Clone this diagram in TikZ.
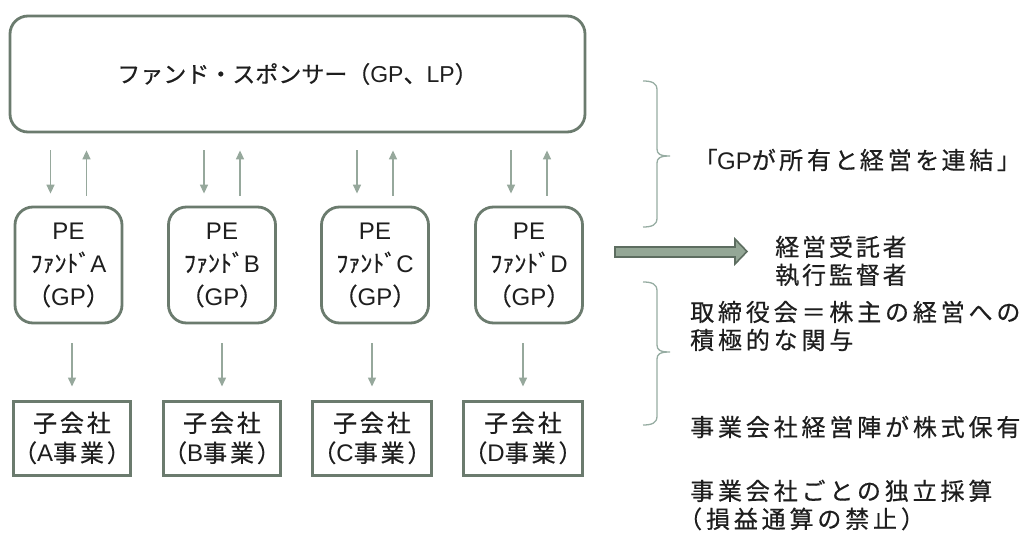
\documentclass[tikz,border=0pt]{standalone}
\usepackage{fontspec}
\setmainfont{Noto Sans CJK JP}
\newfontfamily\jpwide[LetterSpace=12, FakeBold=0.5]{Noto Sans CJK JP}
\newfontfamily\jpwider[LetterSpace=16, FakeBold=0.5]{Noto Sans CJK JP}
\newfontfamily\jpnarrow[FakeBold=0.5]{Noto Sans CJK JP}
\newfontfamily\jpprop[RawFeature=+palt, LetterSpace=16, FakeBold=0.5]{Noto Sans CJK JP}
\newfontfamily\latf{Liberation Sans}
\newcommand\lt[1]{{\latf #1}}
\usetikzlibrary{arrows.meta}
\definecolor{boxc}{RGB}{107,123,110}
\definecolor{arrc}{RGB}{150,168,156}
\definecolor{bracec}{RGB}{150,172,162}
\definecolor{txtc}{RGB}{30,30,30}
\definecolor{bafill}{RGB}{148,167,150}
\definecolor{badraw}{RGB}{93,109,96}
\begin{document}
\begin{tikzpicture}[x=1pt,y=-1pt,
  every node/.style={text=txtc, inner sep=0pt},
  rbox/.style={draw=boxc, line width=2.8pt, rounded corners=18pt, fill=white, align=center},
  pebox/.style={rbox, minimum width=107pt, minimum height=116pt, font=\jpnarrow\fontsize{24}{33}\selectfont},
  sbox/.style={draw=boxc, line width=3pt, fill=white, minimum width=112pt, minimum height=74pt, align=center, font=\jpwide\fontsize{24}{30}\selectfont},
  arr/.style={draw=arrc, line width=1.5pt, -{Triangle[width=8pt,length=9pt]}},
  brace/.style={draw=bracec, line width=1.3pt},
  txt/.style={anchor=west, align=left, font=\jpwider\fontsize{24}{28}\selectfont},
  barrow/.style={fill=bafill, draw=badraw, line width=1.6pt, line join=miter}
]
\useasboundingbox (0,0) rectangle (1025,540);

% sponsor
\node[rbox, minimum width=575pt, minimum height=116pt, font=\jpnarrow\fontsize{23}{28}\selectfont] (sp) at (297.5,74) {ファンド・スポンサー（\lt{GP}、\lt{LP}）};

% PE funds
\node[pebox] (peA) at (68.5,265) {\lt{PE}\\ﾌｧﾝﾄﾞ\lt{A}\\（\lt{GP}）};
\node[pebox] (peB) at (222,265) {\lt{PE}\\ﾌｧﾝﾄﾞ\lt{B}\\（\lt{GP}）};
\node[pebox] (peC) at (375,265) {\lt{PE}\\ﾌｧﾝﾄﾞ\lt{C}\\（\lt{GP}）};
\node[pebox] (peD) at (529,265) {\lt{PE}\\ﾌｧﾝﾄﾞ\lt{D}\\（\lt{GP}）};

% subsidiaries
\node[sbox] (subA) at (72,438) {子会社\\（\lt{A}事業）};
\node[sbox] (subB) at (222,438) {子会社\\（\lt{B}事業）};
\node[sbox] (subC) at (372,438) {子会社\\（\lt{C}事業）};
\node[sbox] (subD) at (523,438) {子会社\\（\lt{D}事業）};

% arrows sponsor <-> PE
\foreach \p in {peA,peB,peC,peD}{
  \coordinate (\p-dn) at ([xshift=-18pt]\p.north);
  \coordinate (\p-up) at ([xshift=18pt]\p.north);
  \draw[arr, shorten <=17pt, shorten >=12pt] (\p-dn |- sp.south) -- (\p-dn);
  \draw[arr, shorten <=10pt, shorten >=17pt] (\p-up) -- (\p-up |- sp.south);
}
% arrows PE -> subsidiaries
\draw[arr, shorten <=19pt, shorten >=13pt] (subA.north |- peA.south) -- (subA.north);
\draw[arr, shorten <=19pt, shorten >=13pt] (subB.north |- peB.south) -- (subB.north);
\draw[arr, shorten <=19pt, shorten >=13pt] (subC.north |- peC.south) -- (subC.north);
\draw[arr, shorten <=19pt, shorten >=13pt] (subD.north |- peD.south) -- (subD.north);

% braces
\draw[brace] (643,81) .. controls (652,81) and (657,83) .. (657,90) -- (657,149)
  .. controls (657,154) and (660,156) .. (670,156)
  .. controls (660,156) and (657,158) .. (657,163) -- (657,218)
  .. controls (657,225) and (652,227) .. (643,227);
\draw[brace] (643,282) .. controls (652,282) and (657,284) .. (657,291) -- (657,345)
  .. controls (657,350) and (660,352) .. (670,352)
  .. controls (660,352) and (657,354) .. (657,359) -- (657,416)
  .. controls (657,423) and (652,425) .. (643,425);

% block arrow
\draw[barrow] (615,247) -- (735,247) -- (735,239) -- (747,251.5) -- (735,264) -- (735,257) -- (615,257) -- cycle;

% right texts
\node[txt, font=\jpprop\fontsize{24}{28}\selectfont] (t1) at (705,160) {「\lt{GP}が所有と経営を連結」};
\node[txt, font=\jpwide\fontsize{24}{28}\selectfont] (t2) at (775,261) {経営受託者\\執行監督者};
\node[txt] (t3) at (690,326) {取締役会＝株主の経営への\\積極的な関与};
\node[txt] (t4) at (690,427) {事業会社経営陣が株式保有};
\node[txt] (t5) at (690,505) {事業会社ごとの独立採算\\\hspace*{-12pt}（損益通算の禁止）};
\end{tikzpicture}
\end{document}
